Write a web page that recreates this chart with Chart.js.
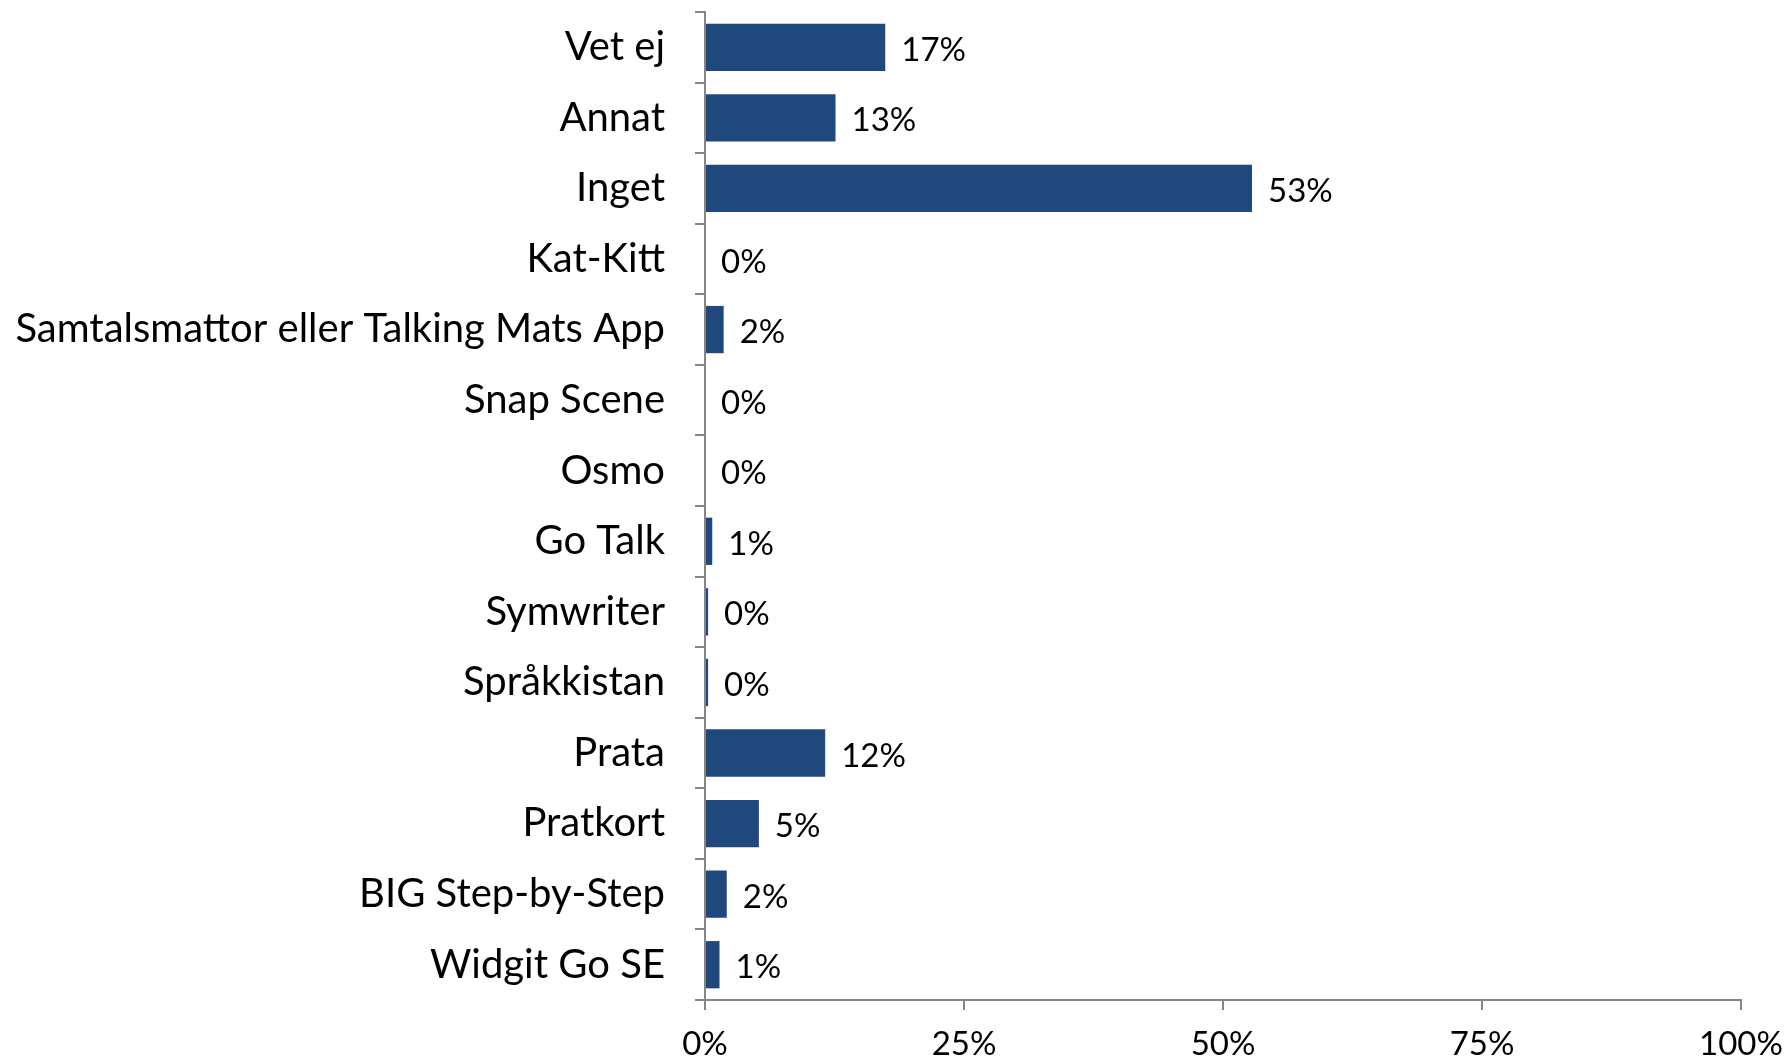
<!DOCTYPE html>
<html>
<head>
<meta charset="utf-8">
<script src="https://cdn.jsdelivr.net/npm/chart.js@4.4.1/dist/chart.umd.min.js"></script>
<style>
  html, body { margin: 0; padding: 0; background: #ffffff; }
  #wrap { width: 1787px; height: 1062px; position: relative; }
</style>
</head>
<body>
<div id="wrap"><canvas id="toolChart"></canvas></div>
<script>
// kategorier och värden (andel i procent)
var categories = ['Vet ej', 'Annat', 'Inget', 'Kat-Kitt', 'Samtalsmattor eller Talking Mats App',
  'Snap Scene', 'Osmo', 'Go Talk', 'Symwriter', 'Språkkistan', 'Prata', 'Pratkort',
  'BIG Step-by-Step', 'Widgit Go SE'];
var shares = [17.4, 12.6, 52.8, 0, 1.8, 0, 0, 0.7, 0.3, 0.3, 11.6, 5.2, 2.1, 1.4];
var shareLabels = ['17%', '13%', '53%', '0%', '2%', '0%', '0%', '1%', '0%', '0%', '12%', '5%', '2%', '1%'];
var xTicks = [0, 25, 50, 75, 100];

var fontFamily = "Lato, 'Open Sans', sans-serif";
var axisGrey = '#868686';

// etiketter till höger om staplarna
var barLabels = {
  id: 'barLabels',
  afterDatasetsDraw: function(chart) {
    var ctx = chart.ctx;
    var meta = chart.getDatasetMeta(0);
    ctx.save();
    ctx.font = '33px ' + fontFamily;
    ctx.fillStyle = '#000000';
    ctx.textAlign = 'left';
    ctx.textBaseline = 'middle';
    meta.data.forEach(function(bar, i) {
      ctx.fillText(shareLabels[i], bar.x + 16, bar.y + 3);
    });
    ctx.restore();
  }
};

var ctx = document.getElementById('toolChart').getContext('2d');
var toolChart = new Chart(ctx, {
  type: 'bar',
  data: {
    labels: categories,
    datasets: [{
      data: shares,
      backgroundColor: '#1F497D',
      borderWidth: 0,
      categoryPercentage: 1,
      barPercentage: 0.67
    }]
  },
  options: {
    indexAxis: 'y',
    responsive: true,
    maintainAspectRatio: false,
    animation: false,
    layout: { padding: { top: 12, right: 46, left: 0, bottom: 0 } },
    plugins: {
      legend: { display: false },
      tooltip: { enabled: false }
    },
    scales: {
      x: {
        min: 0,
        max: 100,
        afterBuildTicks: function(scale) {
          scale.ticks = xTicks.map(function(v) { return { value: v }; });
        },
        afterFit: function(scale) {
          scale.height = 62;
          scale.paddingLeft = 0;
          scale.paddingRight = 0;
        },
        border: { display: true, color: axisGrey, width: 2 },
        grid: { drawOnChartArea: false, drawTicks: true, tickLength: 10, color: axisGrey, lineWidth: 2 },
        ticks: {
          padding: 15,
          color: '#000000',
          font: { family: fontFamily, size: 33 },
          callback: function(v) { return v + '%'; }
        }
      },
      y: {
        afterFit: function(scale) {
          scale.width = 705;
          scale.paddingTop = 0;
          scale.paddingBottom = 0;
        },
        border: { display: true, color: axisGrey, width: 2 },
        grid: { drawOnChartArea: false, drawTicks: true, tickLength: 10, offset: true, color: axisGrey, lineWidth: 2 },
        ticks: {
          padding: 30,
          color: '#000000',
          font: { family: fontFamily, size: 40 }
        }
      }
    }
  },
  plugins: [barLabels]
});
</script>
</body>
</html>
